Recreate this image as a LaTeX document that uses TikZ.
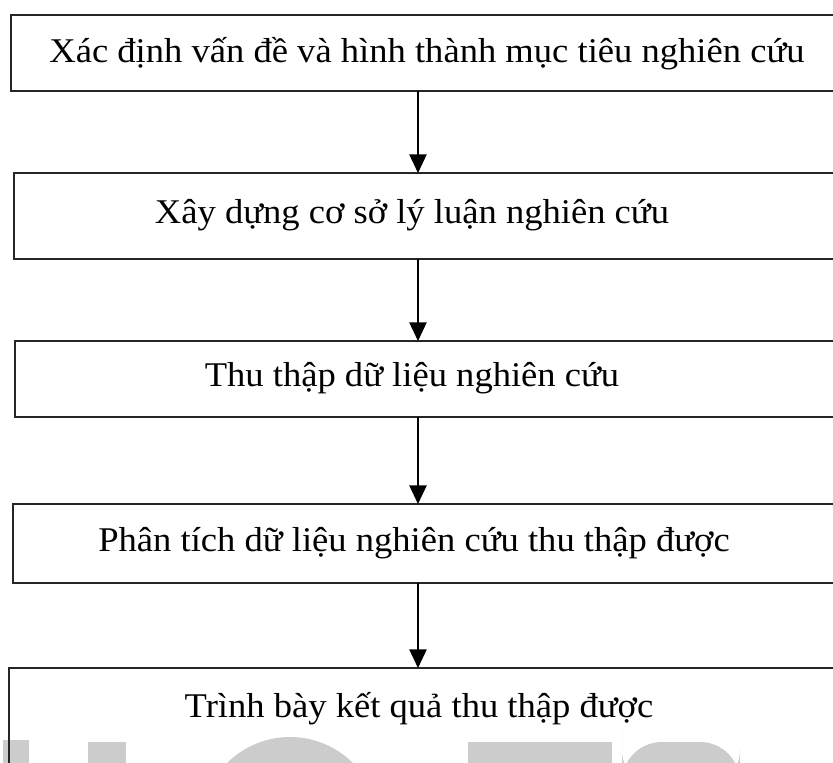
\documentclass[tikz,border=0pt]{standalone}
\usepackage{fontspec}
\setmainfont[FakeStretch=1.055]{Liberation Serif}
\usetikzlibrary{arrows.meta}
\begin{document}
\begin{tikzpicture}[x=0.75pt,y=-0.75pt,
  stepbox/.style={draw=black!85,line width=2pt,fill=none,inner sep=0pt,outer sep=0pt,anchor=north west,minimum width=630pt},
  lbl/.style={font=\fontsize{26}{30}\selectfont,anchor=base,inner sep=0pt},
  conn/.style={line width=1.1pt,-{Triangle[length=14pt,width=13pt]}},
  wm/.style={fill=gray!40,draw=none}]
\useasboundingbox (0,0) rectangle (833,763);
\begin{scope}
\clip (0,0) rectangle (833,763);
% watermark fragments
\fill[wm] (3,740) rectangle (29,770);
\fill[wm] (88,742) rectangle (126,770);
\fill[wm] (290,826) circle[radius=89];
\fill[wm] (468,742) rectangle (612,770);
\fill[wm,rounded corners=30] (622,770) -- (622,742) -- (740,742) -- (740,790) -- (622,790) -- cycle;
% boxes
\node[stepbox,minimum height=57pt] (b1) at (11,15) {};
\node[stepbox,minimum height=64.5pt] (b2) at (14,173) {};
\node[stepbox,minimum height=57pt] (b3) at (15,341) {};
\node[stepbox,minimum height=59.25pt] (b4) at (13,504) {};
\node[stepbox,minimum height=120pt] (b5) at (9,668) {};
\end{scope}
% labels
\node[lbl] (t1) at (427,63) {Xác định vấn đề và hình thành mục tiêu nghiên cứu};
\node[lbl] (t2) at (412,224) {Xây dựng cơ sở lý luận nghiên cứu};
\node[lbl] (t3) at (412,387) {Thu thập dữ liệu nghiên cứu};
\node[lbl] (t4) at (414,551) {Phân tích dữ liệu nghiên cứu thu thập được};
\node[lbl] (t5) at (419,717) {Trình bày kết quả thu thập được};
% connectors
\coordinate (a1) at (418,91);
\coordinate (a2) at (418,259);
\coordinate (a3) at (418,417);
\coordinate (a4) at (418,583);
\draw[conn] (a1) -- (a1 |- b2.north);
\draw[conn] (a2) -- (a2 |- b3.north);
\draw[conn] (a3) -- (a3 |- b4.north);
\draw[conn] (a4) -- (a4 |- b5.north);
\end{tikzpicture}
\end{document}
